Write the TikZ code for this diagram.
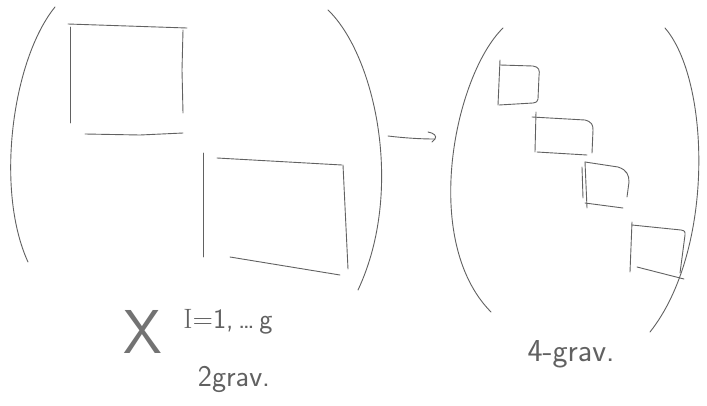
\documentclass[tikz,border=0pt]{standalone}
\begin{document}
\begin{tikzpicture}[x=1pt,y=-1pt,
  pen/.style={draw=black!62,line width=0.9pt,line cap=round,line join=round},
  hand/.style={text=black!62,font=\sffamily,inner sep=0pt,anchor=center}]
\useasboundingbox[fill=white] (0,0) rectangle (707,405);
% ---- left group ----
\coordinate (lpT) at (55,7);
\coordinate (lpB) at (28,262);
\draw[pen] (lpT) .. controls (12,60) and (-5,190) .. (lpB);
\coordinate (rpT) at (328,10);
\coordinate (rpB) at (358,290);
\draw[pen] (rpT) .. controls (375,55) and (405,190) .. (rpB);
% box 1
\draw[pen] (68,24) -- (187,28);
\draw[pen] (70,27) -- (70,123);
\draw[pen] (183,30) -- (182,70) -- (183,113);
\draw[pen] (85,134) -- (140,135) -- (183,133);
% box 2
\draw[pen] (203,153) -- (203,257);
\draw[pen] (217,158) -- (342,165);
\draw[pen] (343,165) -- (348,269);
\draw[pen] (230,257) -- (340,275);
% ---- arrow ----
\coordinate (aS) at (388,136);
\coordinate (aE) at (435,139);
\draw[pen] (aS) .. controls (405,138) and (420,139) .. (aE);
\draw[pen] (428,132) .. controls (434,133) and (437,136) .. (435,139) .. controls (434,141) .. (432,142);
% ---- right group ----
\coordinate (qlT) at (503,28);
\coordinate (qlB) at (491,312);
\draw[pen] (qlT) .. controls (455,75) and (420,240) .. (qlB);
\coordinate (qrT) at (665,28);
\coordinate (qrB) at (650,332);
\draw[pen] (qrT) .. controls (710,80) and (715,250) .. (qrB);
% box A
\draw[pen] (500,60) -- (498,105);
\draw[pen] (500,65) -- (533,66) .. controls (539,67) and (540,70) .. (539,76) -- (538,99) .. controls (537,102) .. (533,103) -- (499,105);
% box B
\draw[pen] (536,112) -- (535,152);
\draw[pen] (532,117) -- (585,120) .. controls (592,122) and (593,125) .. (593,130) -- (592,153);
\draw[pen] (537,152) -- (587,155);
% box C
\draw[pen] (585,162) -- (587,208);
\draw[pen] (582,167) -- (583,198);
\draw[pen] (585,162) -- (618,167) .. controls (627,170) and (629,175) .. (629,182) -- (627,197);
\draw[pen] (585,203) -- (623,208);
% box D
\draw[pen] (632,222) -- (630,272);
\draw[pen] (632,225) -- (681,230) .. controls (685,231) .. (685,235) -- (680,273);
\draw[pen] (637,267) -- (684,279);
% ---- labels ----
\node[hand,text=black!55,font=\sffamily\fontsize{62}{62}\selectfont] (X) at (143,332) {X};
\node[hand,font=\sffamily\fontsize{28}{28}\selectfont] (idx) at (228,322) {{\rmfamily I}=1,\,\dots\,g};
\node[hand,font=\sffamily\fontsize{30}{30}\selectfont] (two) at (234,379) {2grav.};
\node[hand,font=\sffamily\fontsize{32}{32}\selectfont] (four) at (571,354) {4-grav.};
\end{tikzpicture}
\end{document}
